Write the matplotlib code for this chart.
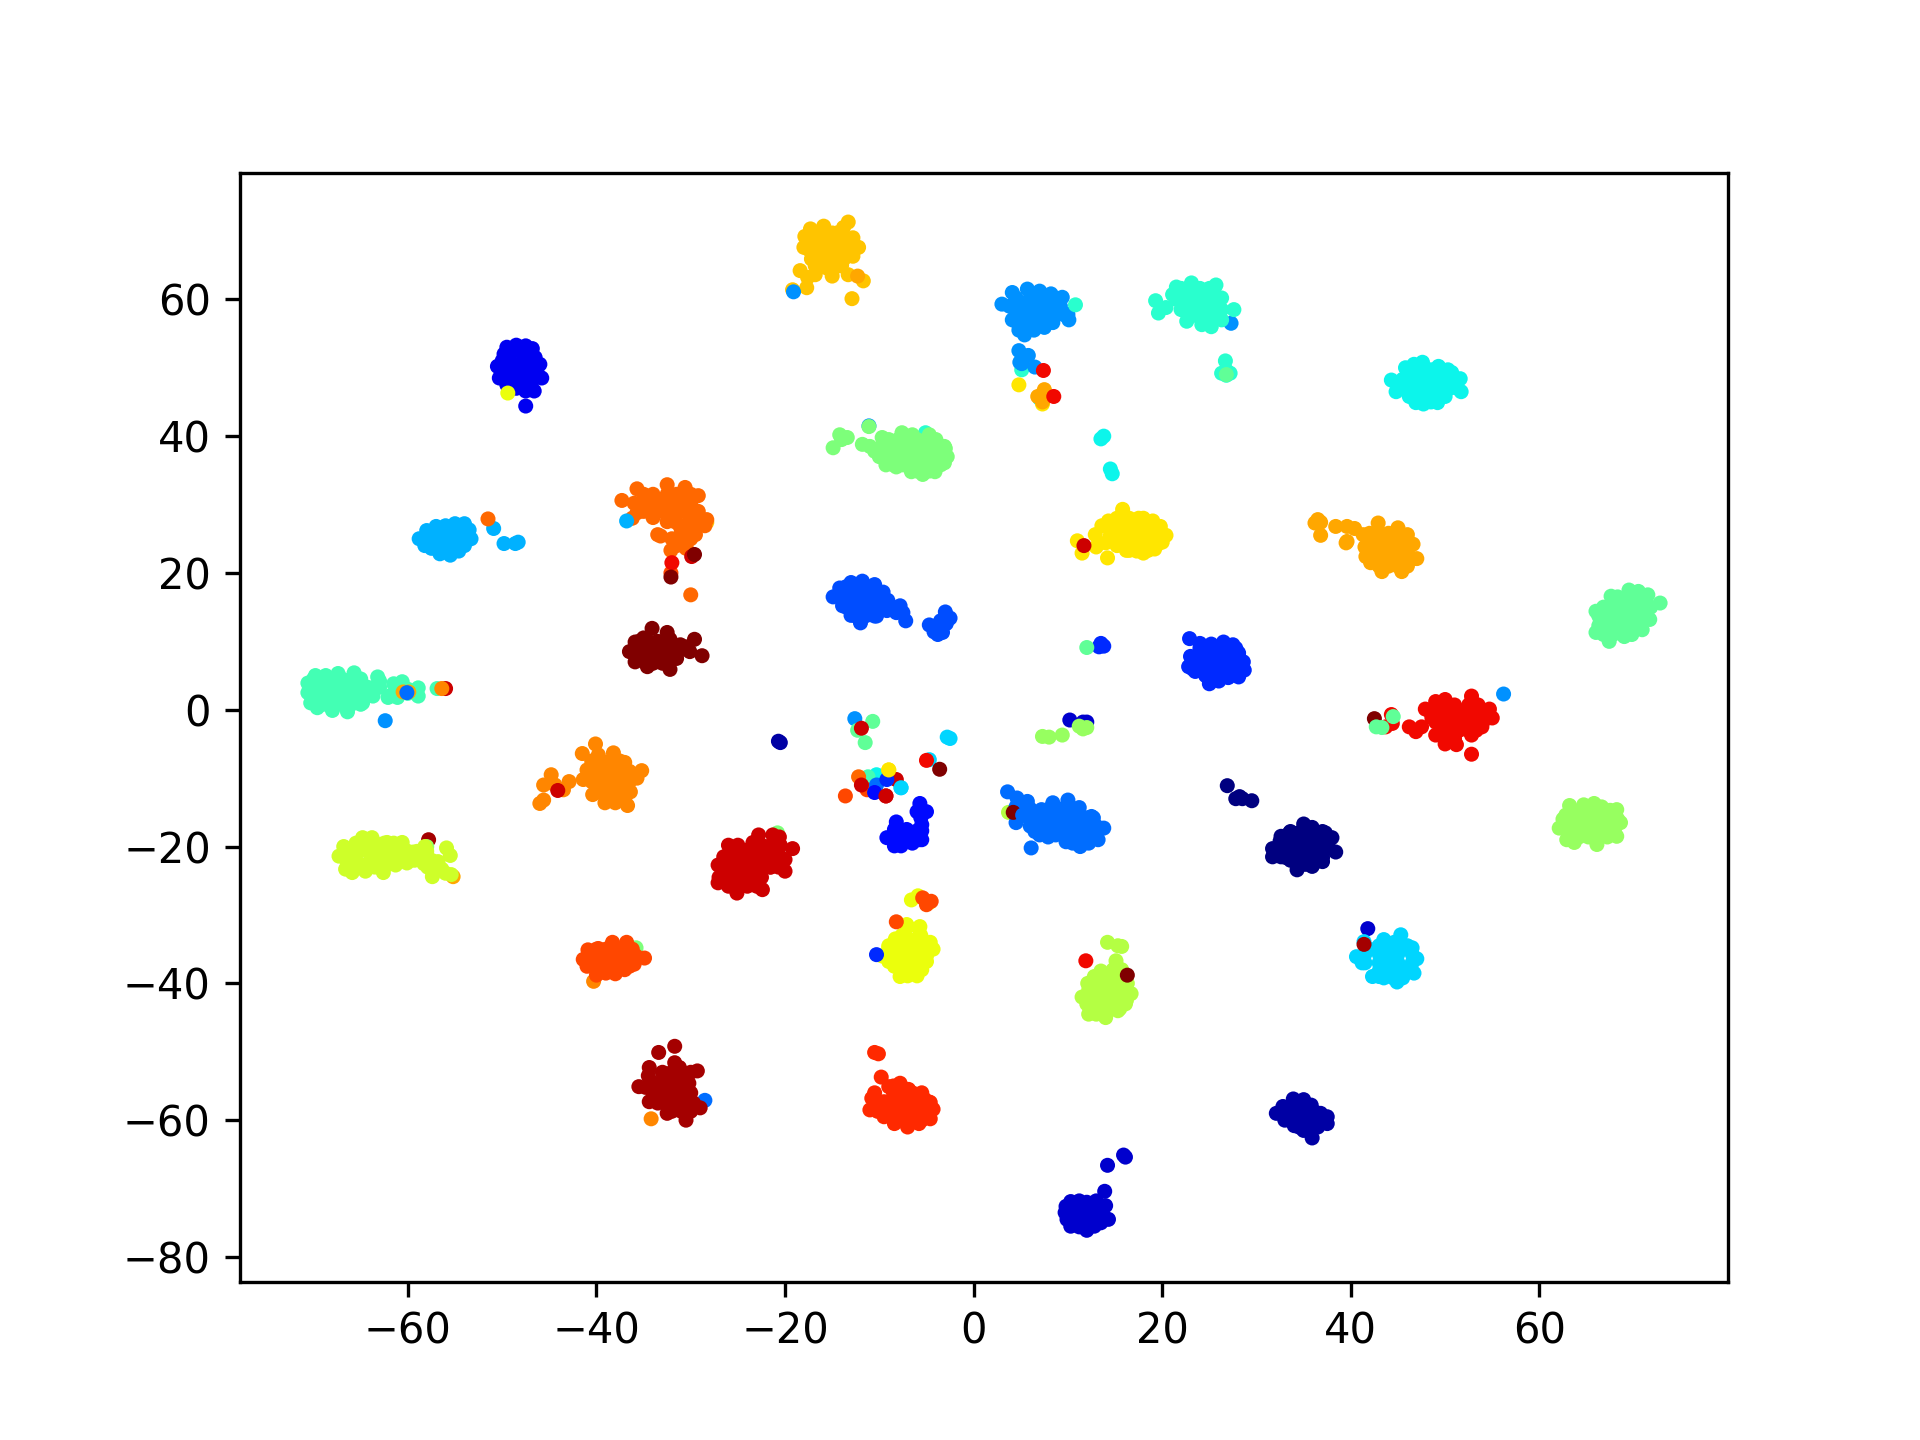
import numpy as np
import matplotlib
matplotlib.use("Agg")
import matplotlib.pyplot as plt

# points, one list per class (label = position in class_points)
class_00 = [(35, -16.7), (35.9, -17.2), (37, -17.8), (38, -18.7), (38.4, -20.8), (37.6, -20), (37, -22.2),
            (35.9, -22.9), (34.3, -23.4), (33.6, -22), (32.6, -21.5), (31.7, -21.5), (31.7, -20.3), (32.6, -18.5),
            (33.6, -17.8), (34.5, -18), (26.9, -11.1), (28.2, -12.7), (27.8, -13), (28.5, -13), (29.5, -13.3)]
class_01 = [(32.1, -59), (32.8, -58), (33.9, -56.9), (35, -57), (35.8, -57.8), (36.2, -58.8), (37.5, -59.5),
            (37.5, -60.5), (36.5, -61), (35.9, -62.6), (35, -61.5), (34, -60.8), (33, -60), (-20.7, -4.6), (-20.5, -4.8)]
class_02 = [(9.8, -72.6), (10.3, -71.9), (11.2, -71.8), (12, -72), (13, -71.8), (13.9, -70.4), (14, -72.5),
            (14.3, -74.5), (13.3, -74.8), (12.8, -75.5), (12, -76.1), (11.2, -75.6), (10.3, -75.5), (9.9, -74.5),
            (9.7, -73.5), (14.2, -66.6), (15.9, -65.1), (16.1, -65.4), (10.2, -1.5), (11.6, -1.8), (12, -1.8),
            (41.8, -32)]
class_03 = [(-49.5, 53), (-48.5, 53.3), (-47.5, 53.2), (-46.8, 52.8), (-46.5, 51.5), (-46, 50.5), (-45.8, 48.5),
            (-46.5, 48.5), (-50.5, 50.2), (-50.3, 48.5), (-49.5, 47.5), (-48.5, 47), (-47.5, 46.6), (-49.8, 52),
            (-50, 51), (-46.6, 46.6), (-47.5, 44.4)]
class_04 = [(-5.7, -13.7), (-6, -14.9), (-5, -14.9), (-5.5, -16.8), (-8.2, -16.4), (-9.2, -18.7), (-8.4, -19.9),
            (-7.7, -19.9), (-7.1, -17.5), (-6.5, -19.5), (-5.5, -19), (-7.5, -18.6), (-8.2, -18), (-6.3, -18.3),
            (-8.4, -17.5), (-5.6, -15.8)]
class_05 = [(22.9, 10.4), (24, 9.7), (25.2, 9.6), (26.5, 9.9), (27.5, 9.5), (28.1, 8.3), (28.6, 7), (28.7, 5.8),
            (28.1, 4.8), (27, 4.7), (26, 4.2), (25, 3.8), (24.6, 5), (23.5, 5.6), (22.8, 6.3), (23, 7.8),
            (13.3, 9.2), (13.5, 9.7), (13.8, 9.3)]
class_06 = [(-14.9, 16.5), (-14.2, 17.8), (-13, 18.6), (-11.8, 18.8), (-10.5, 18.3), (-9.6, 17.2), (-9.1, 16),
            (-9.8, 15), (-10.3, 13.7), (-11.5, 14), (-12, 12.7), (-13, 13.8), (-13.9, 15.2), (-7.8, 15.2),
            (-7.2, 13), (-9.2, 14.5), (-8.6, 15), (-4.7, 12.4), (-3, 14.3), (-2.5, 13.4), (-3.7, 12.5),
            (-3.3, 11.3), (-3.8, 11), (-2.9, 12.6), (-4.2, 11.4)]
class_07 = [(3.6, -12), (4.6, -12.9), (5.7, -13.4), (5.2, -15.4), (4.5, -16.5), (6.5, -17.8), (6.1, -20.2),
            (7.9, -18.6), (7.2, -14.6), (10, -13.2), (8.4, -13.6), (11.2, -14.3), (12.5, -15.6), (13.8, -17.3),
            (13.2, -19), (11.3, -20), (9.8, -19.3)]
class_08 = [(3, 59.3), (4.1, 61), (5.7, 61.5), (7, 61.2), (8.2, 60.8), (9.4, 60.3), (10.1, 57), (7.5, 55.9),
            (8.4, 56.6), (5.4, 54.8), (5, 56), (4.1, 57), (4.8, 52.5), (5.8, 51.8), (5.1, 50.6), (6.5, 50.1),
            (4.9, 50.8), (27.3, 56.5), (56.2, 2.3), (-62.4, -1.6), (-12.6, -1.3)]
class_09 = [(-58.8, 25), (-58, 26.2), (-57, 26.8), (-56, 26.9), (-55, 27.2), (-54, 27.2), (-53.5, 26.3), (-53.3, 25),
            (-54, 24), (-54.6, 23.2), (-55.5, 22.6), (-56.6, 22.8), (-57.5, 23.6), (-58.2, 24), (-50.9, 26.5),
            (-49.8, 24.3), (-48.3, 24.5), (-48.6, 24.3)]
class_10 = [(45.3, -32.9), (44.6, -34), (41.4, -33.9), (40.6, -36.1), (41.2, -37), (42.3, -39), (44.9, -39.8),
            (46.7, -38.5), (47, -36.4), (46.5, -34.8), (43.5, -33.6), (43, -39), (42, -35), (-2.8, -4), (-2.5, -4.2),
            (-4.7, -7.3), (-7.7, -11.4)]
class_11 = [(44.3, 48.2), (44.8, 46.5), (45.8, 50), (46.7, 50.5), (47.6, 50.8), (49.3, 50.2), (50.7, 49.3), (51.6, 48.4),
            (51.7, 46.5), (49.2, 44.9), (47.7, 44.7), (46.9, 44.9), (46.2, 45.8), (13.5, 39.6), (13.8, 40),
            (14.5, 35.2), (14.7, 34.5), (-10.3, -9.5), (7, 45.5)]
class_12 = [(21.5, 61.8), (23.1, 62.4), (25.7, 62.1), (26.3, 60.2), (21.1, 60.7), (22, 58.5), (22.6, 56.8), (24.2, 56.3),
            (25.2, 56), (26.3, 57), (19.3, 59.8), (20.4, 58.8), (19.6, 58), (27.6, 58.5), (26.7, 51), (26.3, 49.2),
            (27.2, 49.2), (26.8, 48.9), (26.8, 49.6), (10.8, 59.2), (-5.1, 40.5)]
class_13 = [(-70.6, 3.9), (-69.8, 5), (-67.4, 5.3), (-65.7, 5.4), (-63.2, 4.8), (-64.5, 3.4), (-64, 3.2), (-70.6, 2.5),
            (-70.3, 1), (-69.6, 0.3), (-68, -0.1), (-66.4, -0.3), (-64.8, 1), (-68.7, 5), (-61.5, 3.8), (-60.6, 4.1),
            (-62.1, 1.8), (-61.1, 1.8), (-58.9, 3.2), (-58.9, 2), (-60, 2.4), (-56.9, 3.1), (-11.2, -9.8), (-11.1, -11.4)]
class_14 = [(66, 14.4), (67.6, 16.6), (69.5, 17.5), (70.5, 17.3), (71.5, 16.8), (72.8, 15.6), (66, 11.3), (67.4, 10),
            (69, 10.7), (69.8, 11), (70.9, 11.7), (71.7, 13.2), (12, 9.1), (-10.7, -1.7), (-12.3, -3), (-11.5, -4.8)]
class_15 = [(-14.2, 40.2), (-14.9, 38.3), (-13.4, 39.8), (-11.8, 38.8), (-10.5, 37.8), (-9.7, 39.8), (-7.6, 40.5),
            (-6.5, 40.2), (-4.7, 40.2), (-3.1, 38.5), (-2.8, 37), (-3.1, 36.1), (-4.1, 34.8), (-5.4, 34.4),
            (-6.6, 34.8), (-8.2, 35.5), (-9.3, 35.8), (-11, 38.5), (-11.1, 41.4)]
class_16 = [(63.2, -14), (64.7, -13.9), (65.8, -13.7), (66.6, -14.2), (68.2, -14.6), (68.6, -16.5), (68.2, -18.5),
            (66.1, -19.7), (63.7, -19.4), (62.9, -19), (62.1, -17.3), (62.8, -15.4), (7.3, -3.9), (8, -4), (9.4, -3.7),
            (11.2, -2.4), (12, -2.6), (11.6, -2.8)]
class_17 = [(11.5, -42), (12.1, -40), (12.8, -39), (13.5, -38.2), (14.8, -38), (15.7, -38), (16.3, -40), (16.7, -41.5),
            (16.1, -43), (15.3, -44), (14, -45), (13, -44.5), (12.2, -44.5), (12, -43), (15.1, -36.7), (14.2, -34),
            (15.3, -34.5), (15.7, -34.6)]
class_18 = [(-64.8, -18.7), (-63.8, -18.7), (-66.8, -20), (-67.3, -21.4), (-66.6, -23.3), (-65.9, -23.8), (-64.5, -23.6),
            (-62.6, -23.8), (-61.3, -22.7), (-60.1, -22.4), (-60.6, -19.4), (-62.2, -19.4), (-59.4, -20.8),
            (-58.2, -20), (-55.9, -20.2), (-55.5, -21.3), (-57.9, -23), (-57.4, -24.4), (-56.8, -22.2), (-56.4, -23.3),
            (-55.4, -24.1), (-56, -23.9)]
class_19 = [(-9.7, -36), (-9, -34.5), (-8.3, -33.5), (-7.6, -33), (-7, -31.7), (-5.8, -32), (-5.6, -33), (-4.6, -34),
            (-4.3, -35), (-5, -36.8), (-5.5, -38), (-6, -38.9), (-7, -38.9), (-7.8, -39), (-8.4, -37.5), (-9, -36.8),
            (-6.6, -27.8), (-5.9, -27.2), (-4.7, -28.2), (-7.1, -31.4), (-5.7, -31.7), (-49.4, 46.3)]
class_20 = [(15.8, 29.3), (15.2, 28), (14.3, 27.6), (13.6, 26.9), (14.5, 25.5), (15.2, 24), (16.2, 23.3), (17.3, 23.2),
            (18, 22.9), (19.2, 23.5), (20, 24.5), (20.4, 25.5), (19.8, 26.8), (19, 27.6), (18, 28), (11, 24.7), (12.9, 25.6),
            (11.5, 22.9), (14.2, 22.2), (13, 23.8), (14, 24.4), (4.8, 47.5), (7.3, 44.7), (-9, -8.8)]
class_21 = [(-13.3, 71.3), (-15.9, 70.7), (-17.3, 70.3), (-17.9, 69.2), (-18, 67.6), (-17.2, 65.9), (-16.8, 64.9),
            (-15.6, 64.6), (-14.2, 64.9), (-12.8, 66.3), (-12.2, 67.6), (-12.8, 69), (-14, 69.7), (-13.8, 70.5),
            (-18.4, 64.2), (-16.8, 63.6), (-17.6, 63.2), (-17.7, 61.7), (-15, 63.4), (-13.3, 63.6), (-11.7, 62.7),
            (-12.9, 60.1), (-28.3, 27.4)]
class_22 = [(42.9, 27.3), (45, 26.6), (46, 25.6), (46.6, 24.2), (47, 22.1), (45.4, 20.2), (43.3, 20.2), (42.1, 21.5),
            (41.6, 22.4), (41.5, 23.8), (41.3, 25.6), (36.2, 27.3), (36.8, 27.4), (36.5, 27.8), (36.8, 25.5), (38.4, 26.8),
            (39.6, 26.8), (40.4, 26.5), (39.6, 24.6), (39.5, 24.4), (-12.3, 63.4), (7.5, 46.8), (6.8, 45.8), (7.3, 45)]
class_23 = [(-40.1, -5), (-41.5, -6.4), (-38.2, -6.3), (-39.8, -6.6), (-41, -8.8), (-41.4, -10.2), (-35.2, -8.9),
            (-35.7, -10), (-36.4, -12), (-36.7, -14), (-38, -13.6), (-39.1, -13.6), (-40.4, -12.4), (-37, -7.7),
            (-44.8, -9.5), (-45.6, -11), (-42.9, -10.5), (-43.5, -11.7), (-44.4, -11), (-45.6, -13.2), (-46, -13.7),
            (-34.2, -59.8), (-40.3, -39.7), (-56.4, 3.1)]
class_24 = [(-37.3, 30.6), (-35.7, 32.3), (-32.5, 32.9), (-30.6, 32.5), (-29.2, 31.3), (-29.2, 29), (-28.3, 27.8), (-28.5, 26.9),
            (-30.1, 27.8), (-35.7, 28.8), (-36.2, 28), (-34, 28.1), (-33.5, 25.6), (-29.9, 25.6), (-31.2, 27), (-31.2, 25),
            (-30.5, 23.6), (-32.1, 23.3), (-33.2, 25.4), (-29.5, 25.6), (-30, 16.8), (-12.2, -9.8), (-51.5, 27.9)]
class_25 = [(-41.4, -36.5), (-40.9, -35.1), (-39.8, -34.9), (-38.3, -34), (-36.8, -34), (-35.8, -36), (-34.9, -36.3),
            (-36, -37.2), (-37, -38), (-38, -38.6), (-39, -38.5), (-40, -38.8), (-40.7, -37.3), (-32.1, 20),
            (-13.6, -12.6), (-11.3, -11.7), (-5.4, -27.5), (-4.5, -28), (-5, -28.5), (-8.2, -31)]
class_26 = [(-11, -58.5), (-10.8, -56.8), (-9.8, -53.7), (-9, -55.1), (-7.8, -54.6), (-6.9, -55.5), (-6.3, -56.8),
            (-5.3, -56.8), (-4.6, -57.4), (-4.3, -58.4), (-4.6, -59.8), (-5.8, -60.5), (-7, -61), (-8.4, -60.5),
            (-9.5, -59.5), (-10.5, -50.1), (-10.1, -50.3)]
class_27 = [(50, 1.5), (49, 1.2), (52.8, 2), (54.7, 0.1), (55, -1.2), (53.9, -2.5), (52.8, -3.7), (51.2, -5.1), (50, -5),
            (49, -3.7), (47.9, 0.1), (48.6, -1.2), (46.2, -2.5), (46.9, -3.2), (47.5, -2.5), (52.8, -6.5), (44.3, -0.7),
            (44.4, -2), (43.7, -2.5), (7.4, 49.6), (8.5, 45.8), (11.9, -36.7), (-32, 21.5), (-5, -7.4)]
class_28 = [(-25.8, -20.2), (-25, -20.2), (-27.1, -22.7), (-27.1, -25.3), (-25.1, -26.8), (-22.4, -26.3), (-21.6, -23),
            (-23.4, -19.4), (-22.8, -18.3), (-21.3, -18.3), (-20.6, -18.6), (-19.2, -20.3), (-20, -21.9), (-20, -23.6),
            (-20.6, -20), (11.7, 24), (-44.1, -11.8), (-11.9, -2.7), (-29.9, 22.4), (-8.2, -10.2), (-11.9, -11), (-9.3, -12.6)]
class_29 = [(-31.7, -49.2), (-33.4, -50.1), (-31.7, -51.6), (-31.2, -52.3), (-29.3, -52.8), (-34.4, -52.3), (-35.5, -55.1),
            (-30.2, -54.6), (-29, -58.2), (-30.5, -60), (-32.5, -59), (-34.4, -57.3), (-34.8, -55.2), (41.4, -34.3)]
class_30 = [(-34.1, 11.9), (-32.5, 11.3), (-29.6, 10.3), (-28.8, 7.9), (-30.1, 8.5), (-31.1, 9.5), (-32.2, 5.9), (-34.6, 6.3),
            (-35.9, 7), (-36.5, 8.5), (-35.9, 9.9), (-35, 10.5), (-32.2, 10.3), (16.3, -38.8), (42.5, -1.3), (-3.6, -8.7),
            (-29.6, 22.7), (-32.1, 19.4), (4.2, -15)]

class_points = [class_00, class_01, class_02, class_03, class_04, class_05, class_06, class_07, class_08, class_09, class_10,
                class_11, class_12, class_13, class_14, class_15, class_16, class_17, class_18, class_19, class_20,
                class_21, class_22, class_23, class_24, class_25, class_26, class_27, class_28, class_29, class_30]

# inside of the solid blobs, rows of y: [x, ...], one dict per class
class_fill = [
    {-18: [33.5, 34.5, 35.5, 36.5, 37.3], -19.2: [32.5, 33.3, 34.3, 35.3, 36.3, 37.3], -20.4: [32.3, 33.3, 34.3, 35.3, 36.3, 37.3],
     -21.6: [33.1, 34.1, 35.1, 36.1, 37], -22.6: [34.3, 35.2, 36]},
    {-58: [33.5, 34.5, 35.5], -59: [33, 34, 35, 36, 36.8], -60: [33.5, 34.5, 35.5, 36.5], -61: [34.5, 35.5]},
    {-72.7: [11, 12, 13], -74: [10.5, 11.5, 12.5, 13.5], -75: [10.5, 11.5, 12.5, 13.5]},
    {52.3: [-49, -48, -47], 50.5: [-49.7, -48.7, -47.7, -46.7], 49: [-50, -49, -48, -47, -46.2], 47.8: [-49.2, -48, -47]},
    {-19: [-8, -7, -5.8], -17.7: [-7.7, -6, -5.5]},
    {9: [24, 25, 26, 27, 27.8], 7.5: [23.5, 24.5, 25.5, 26.5, 27.5, 28.2], 6: [23.2, 24.2, 25.2, 26.2, 27.2, 28.2], 4.8: [25, 26, 27]},
    {18: [-13.5, -12.5, -11.5, -10.5], 16.5: [-14.2, -13.2, -12.2, -11.2, -10.2], 15: [-13.5, -12.5, -11.5, -10.5, -9.5],
     13.7: [-12.5, -11.5, -10.5], 14.2: [-8.2, -7.5], 12: [-3.5, -3.8], 13: [-3.5]},
    {-14.2: [4.5, 5], -14.5: [6, 8, 9, 10, 11], -15.8: [4.7, 6, 7, 8, 9, 10, 11, 12, 12.7], -17: [6, 7, 8, 9, 10, 11, 12, 13],
     -18.3: [7, 8.7, 10, 11, 12, 13], -19.5: [10.5, 12.2]},
    {60.2: [4.5, 6, 7.5, 8.7], 59: [3.8, 5, 6, 7, 8.2, 9.2], 57.8: [4.5, 5.8, 6.5, 7.5, 8.3, 9.5, 10], 56.5: [4.7, 5.8, 6.8],
     55.5: [4.8, 5.5, 6.4]},
    {26: [-57, -56, -55, -54, -53.6], 25: [-58, -57.5, -56.5, -55.5, -54.5, -53.7], 24: [-57, -56.5, -55.5, -54.7],
     23.2: [-56.5, -55.5]},
    {-34.5: [43, 44, 45, 46], -35.7: [41.5, 43, 44, 45, 46.5], -37: [41.5, 43, 44, 45, 46.5], -38.2: [43, 44, 45, 46],
     -39.2: [43.5, 44.5, 45.5]},
    {49.7: [46.5, 47.5, 48.5, 49.5, 50.3], 48.3: [45.5, 46.5, 47.5, 48.5, 49.5, 50.5, 51.3],
     47: [45.5, 46.5, 47.5, 48.5, 49.5, 50.5, 51.3], 45.8: [47, 48, 49, 50], 45: [47.5, 48.5]},
    {61.6: [22, 23, 24, 25, 25.5], 60: [21.5, 22.5, 23.5, 24.5, 25.5], 58.5: [22.8, 23.5, 24.5, 25.5, 26.3], 57.5: [23, 24, 25, 26]},
    {4.5: [-70, -69, -68, -67, -66, -65], 3.3: [-70, -69, -68, -67, -66, -65, -63], 4.2: [-63],
     2: [-70, -69, -68, -67, -66, -65, -64.5, -63.7, -62], 0.8: [-69, -68, -67, -66, -65], 3: [-61, -60]},
    {16.5: [68.3, 69.3, 70.3, 71.2], 15: [66.8, 67.8, 68.8, 69.8, 70.8, 71.8], 13.7: [66.3, 67.3, 68.3, 69.3, 70.3, 71.3],
     12.3: [66.3, 67.3, 68.3, 69.3, 70.3], 11: [66.8, 67.8]},
    {39.5: [-14, -9, -8, -7, -6, -5, -4], 38.2: [-10, -9, -8, -7, -6, -5, -4, -3], 37: [-10, -9, -8, -7, -6, -5, -4, -3],
     35.8: [-8.5, -7.5, -6.5, -5.5, -4.5, -3.5], 34.9: [-6, -5, -4.7]},
    {-14.7: [63.5, 64.5, 65.5, 66.5, 67.5], -16: [62.5, 63.5, 64.5, 65.5, 66.5, 67.5, 68.3], -17.3: [62.8, 64, 65, 66, 67, 68],
     -18.6: [63.2, 64.2, 65.2, 66.2, 67.2]},
    {-39.5: [13, 14, 15, 16], -41: [12.2, 13.2, 14.2, 15.2, 16.2], -42.5: [12.2, 13.2, 14.2, 15.2, 16.2], -43.7: [12.5, 13.5, 14.5, 15.5]},
    {-19.5: [-65.5, -64.5, -63.5, -62.5, -61.5], -20.7: [-66.2, -65.2, -64, -63, -62, -61, -60, -59, -58],
     -22: [-66.5, -65.5, -64, -63, -62, -61, -60, -59.3, -57.5], -23: [-65, -64, -63.5, -62.5], -22.5: [-58.3], -23.4: [-57.5, -56.5]},
    {-33.5: [-8, -7, -6], -34.8: [-9, -8, -7, -6, -5], -36: [-9, -8, -7, -6, -5], -37.3: [-8, -7, -6, -5.5], -38.3: [-7.5, -6.5]},
    {28: [15.5, 16.5, 17.5], 26.8: [14.5, 15.5, 16.5, 17.5, 18.5], 25.5: [15, 16, 17, 18, 19, 20], 24.2: [15.5, 16.5, 17.5, 18.5, 19.5],
     23.3: [16.5, 17.5, 18.5]},
    {69.7: [-17, -16, -15, -14.5], 68.5: [-17.5, -16.5, -15.5, -14.5, -13.5], 67.3: [-17.5, -16.5, -15.5, -14.5, -13.5],
     66: [-16.7, -15.7, -14.7, -13.7], 65: [-16, -15, -14]},
    {25.8: [42, 43, 44, 45], 24.5: [42, 43, 44, 45, 46], 23.2: [42, 43, 44, 45, 46], 22: [42.5, 43.5, 44.5, 45.5, 46.5],
     21: [43, 44, 45, 46]},
    {-7.5: [-40.5, -39.5, -38.5, -37.5], -9: [-40.5, -39.5, -38.5, -37.5, -36.5], -10.5: [-40.5, -39.5, -38.5, -37.5, -36.5],
     -12: [-40, -39, -38, -37], -13: [-39, -38, -37]},
    {31.5: [-35, -34, -32.5, -31.5, -30.5, -30], 30.2: [-36, -35, -34, -33, -32, -31, -30], 29: [-35, -34, -33, -32, -31, -30],
     27.5: [-32.5, -31.7, -29.5], 26.3: [-31, -30.3], 25: [-32, -30], 24: [-31.5, -30.5]},
    {-35: [-40, -39, -38, -37, -36.2], -36.2: [-41, -40, -39, -38, -37, -36], -37.5: [-41, -40, -39, -38, -37.8, -36.5], -38.3: [-39.5]},
    {-55: [-8.5], -55.3: [-7.5], -56: [-10.5, -8.5, -7.5, -6.5, -5.5], -57.3: [-10.5, -9.5, -8.5, -7.5, -6.5, -5.5, -4.8],
     -58.7: [-10.2, -9.5, -8.5, -7.5, -6.5, -5.5, -4.7], -60: [-8.5, -7.5, -6.5, -5.5]},
    {1.2: [52.8], 0.7: [49, 50, 51, 52.5, 53.5], -0.5: [48.5, 49.5, 50.5, 51.5, 52.5, 53.5, 54.5], -1.8: [49, 50, 51, 52, 53, 54],
     -3: [49.5, 50.5, 51.5, 52.5, 53.3], -4.2: [50, 51]},
    {-19.8: [-26, -25, -22.5, -21.5, -20.5], -20.5: [-24, -23.7], -21.5: [-26.5, -25.5, -24.5, -23.5, -22.5, -21.5, -20.5],
     -23: [-26.5, -25.5, -24.5, -23.5, -22.5, -21.5, -20.7], -24.5: [-27, -26, -25, -24, -23, -22.5], -25.8: [-26, -25, -24, -23]},
    {-53: [-33, -32, -31, -30], -54.5: [-34, -33, -32, -31, -30.5], -56: [-34, -33, -32, -31, -30],
     -57.5: [-33.5, -32.5, -31.5, -30.5, -29.7], -58.7: [-32, -31, -30], -53.5: [-34.5]},
    {10: [-35.5, -34.5, -33.5], 8.8: [-36, -35, -34, -33, -32, -31], 7.5: [-35.5, -34.5, -33.5, -32.5, -31.5], 6.8: [-34, -33], 9.2: [-30.5]},
]

# points that end up below every blob, and points on top of them, as (x, y, label)
under_points = [(-55.2, -24.4, 22), (-57.8, -19, 29), (-58, -20, 16), (-35.8, -34.8, 15), (-20.8, -18, 15), (-28.5, -57.1, 7),
                (5.1, 49.7, 12), (-11.1, 41.5, 8), (-9.4, 14.9, 10), (3.7, -15, 17), (-56, 3.1, 28), (-19.2, 61.4, 21)]
top_points = [(-60.5, 2.6, 22), (-59.9, 2.6, 22), (-60.1, 2.5, 7), (-10.3, -11, 7), (-10.5, -12.1, 4), (-9.2, -10.2, 5),
              (-9, -8.8, 20), (5.2, -15.4, 7), (-10.3, -35.8, 5), (-36.8, 27.6, 9), (-19.1, 61.1, 8), (44.5, -1, 14),
              (42.7, -2.5, 14), (43.3, -2.6, 14), (26.8, 49, 14), (-7.7, -11.4, 10), (-9.3, -12.6, 28)]

x_ticks = [-60, -40, -20, 0, 20, 40, 60]
y_ticks = [-80, -60, -40, -20, 0, 20, 40, 60]


def main():
    xs, ys, labels = [], [], []
    for x, y, label in under_points:
        xs.append(x)
        ys.append(y)
        labels.append(label)
    for label, points in enumerate(class_points):
        for y, row in class_fill[label].items():
            for x in row:
                xs.append(x)
                ys.append(y)
                labels.append(label)
        for x, y in points:
            xs.append(x)
            ys.append(y)
            labels.append(label)
    for x, y, label in top_points:
        xs.append(x)
        ys.append(y)
        labels.append(label)

    fig, ax = plt.subplots(figsize=(6.4, 4.8))
    ax.scatter(np.array(xs), np.array(ys), c=labels, cmap="jet", vmin=0, vmax=30, s=13, linewidths=0)

    ax.set_xlim(-77.8, 80)
    ax.set_ylim(-83.6, 78.5)
    ax.set_xticks(x_ticks)
    ax.set_yticks(y_ticks)

    fig.savefig("out.png", dpi=300)
    plt.close(fig)


if __name__ == "__main__":
    main()
